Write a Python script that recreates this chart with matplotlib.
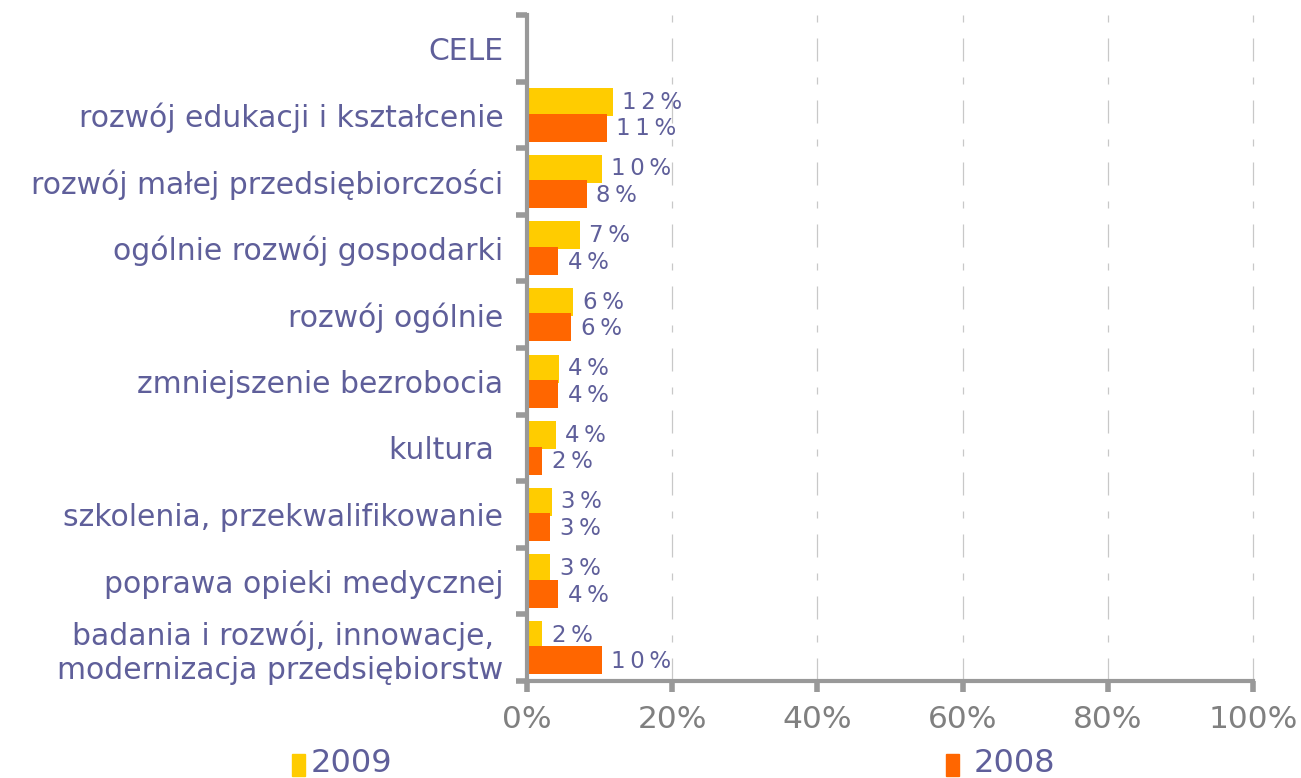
import matplotlib
matplotlib.use("Agg")
import matplotlib.pyplot as plt
from matplotlib.patches import Rectangle

categories = [
    "CELE",
    "rozwój edukacji i kształcenie",
    "rozwój małej przedsiębiorczości",
    "ogólnie rozwój gospodarki",
    "rozwój ogólnie",
    "zmniejszenie bezrobocia",
    "kultura ",
    "szkolenia, przekwalifikowanie",
    "poprawa opieki medycznej",
    "badania i rozwój, innowacje, \nmodernizacja przedsiębiorstw",
]
# values in %, None = no bar
v2009 = [None, 11.8, 10.3, 7.3, 6.4, 4.4, 4.0, 3.4, 3.2, 2.1]
v2008 = [None, 11.0, 8.2, 4.3, 6.1, 4.3, 2.1, 3.2, 4.3, 10.3]
xticks = [0, 20, 40, 60, 80, 100]
xticklabels = ["0%", "20%", "40%", "60%", "80%", "100%"]
series_names = ["2009", "2008"]

c2009 = "#FFCC00"
c2008 = "#FF6600"
txt = "#5F5F9A"
axis_gray = "#999999"

fig = plt.figure(figsize=(13.01, 7.78), dpi=100)
ax = fig.add_axes([527/1301, 1-681/778, (1253-527)/1301, (681-15)/778])

n = len(categories)
ypos = list(range(n))
h = 0.42
off = 0.19
sp = "\u2009"

def fmt(v):
    return sp.join(list(f"{round(v):d}%"))

for i, (a, b) in enumerate(zip(v2009, v2008)):
    if a is not None:
        ax.barh(i - off, a, height=h, color=c2009, zorder=2)
        ax.text(a + 1.3, i - off, fmt(a), va="center", ha="left",
                fontsize=16.5, color=txt, zorder=4)
    if b is not None:
        ax.barh(i + off, b, height=h, color=c2008, zorder=3)
        ax.text(b + 1.3, i + off + 0.02, fmt(b), va="center", ha="left",
                fontsize=16.5, color=txt, zorder=4)

ax.set_ylim(n - 0.5, -0.5)
ax.set_xlim(0, 100)
ax.set_yticks([i - 0.5 for i in range(n + 1)])
ax.set_yticklabels([])
ax.set_yticks(ypos, minor=True)
ax.set_yticklabels(categories, minor=True, fontsize=21.5, color=txt,
                   ha="right", multialignment="right")
ax.tick_params(axis="y", which="minor", length=0, pad=17)
ax.tick_params(axis="y", which="major", length=8, width=4, color=axis_gray,
               direction="out")
ax.set_xticks(xticks)
ax.set_xticklabels(xticklabels, fontsize=22.5, color="#808080")
ax.tick_params(axis="x", length=8, width=4, color=axis_gray, pad=9)

for s in ["top", "right"]:
    ax.spines[s].set_visible(False)
for s in ["left", "bottom"]:
    ax.spines[s].set_color(axis_gray)
    ax.spines[s].set_linewidth(3)
    ax.spines[s].set_zorder(5)

for x in xticks[1:]:
    ax.axvline(x, color="#C8C8C8", lw=0.9,
               linestyle=(0, (18.4, 12.8, 5.6, 12.8)), zorder=1, clip_on=False)

# legend
fig.patches.append(Rectangle((292/1301, 1-776/778), 13/1301, 22/778,
                             transform=fig.transFigure, color=c2009))
fig.text(311/1301, 1-764/778, series_names[0], fontsize=23, color=txt,
         va="center", ha="left")
fig.patches.append(Rectangle((946/1301, 1-776/778), 13/1301, 22/778,
                             transform=fig.transFigure, color=c2008))
fig.text(974/1301, 1-764/778, series_names[1], fontsize=23, color=txt,
         va="center", ha="left")

fig.savefig("out.png", dpi=100)
